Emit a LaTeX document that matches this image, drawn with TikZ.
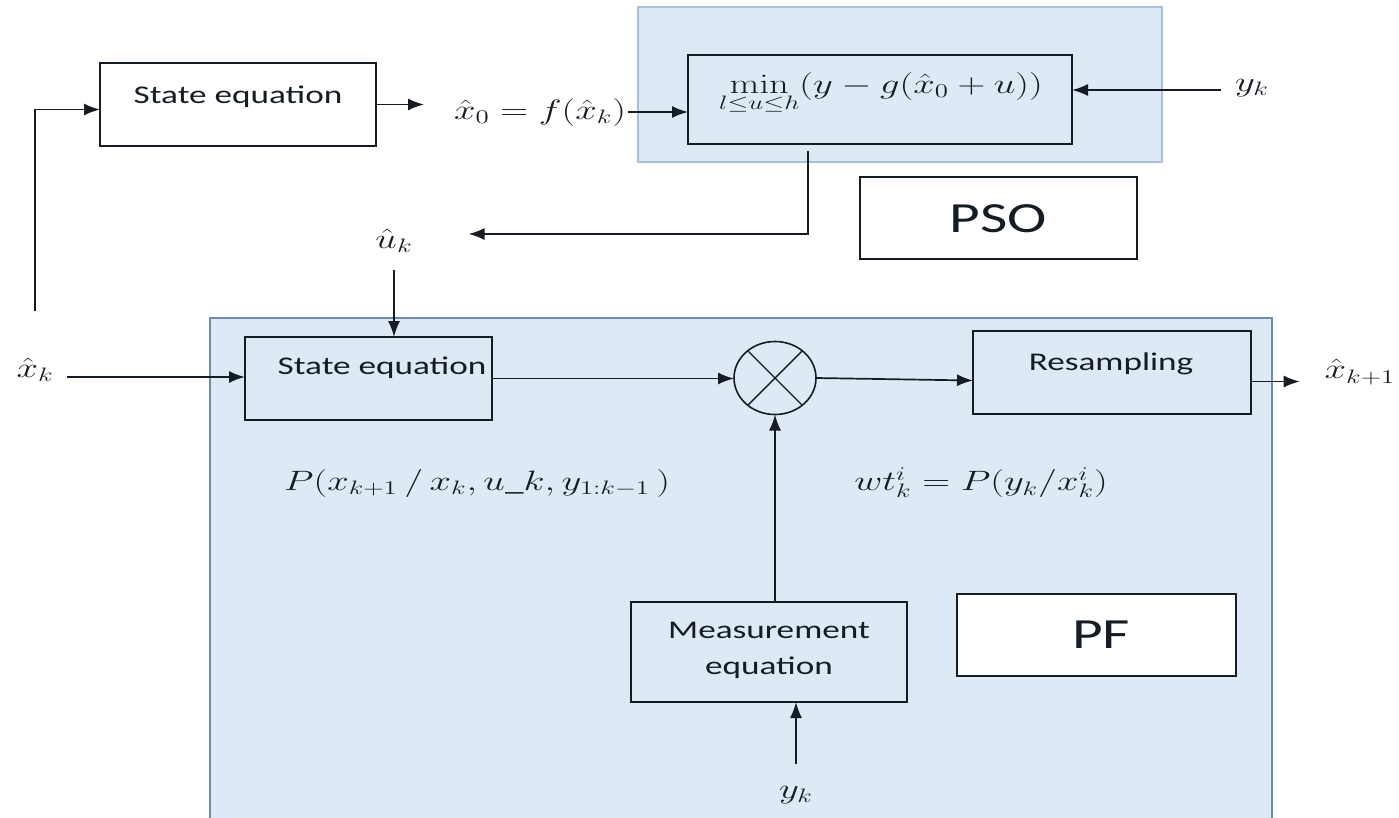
\documentclass[tikz,border=0pt]{standalone}
\usepackage[no-math]{fontspec}
\setmainfont{Carlito}
\usepackage{graphicx}
\usetikzlibrary{arrows.meta,shapes.geometric}
\definecolor{shade}{RGB}{221,233,245}
\definecolor{psoline}{RGB}{170,192,216}
\definecolor{pfline}{RGB}{110,140,172}
\definecolor{ink}{RGB}{22,28,36}
\newcommand{\hs}[1]{\scalebox{1.38}[1]{#1}}
\newcommand{\mhs}[1]{\scalebox{1.863}[1.35]{#1}}
\begin{document}
\begin{tikzpicture}[x=1pt,y=-1pt,
  every node/.style={inner sep=0pt,outer sep=0pt},
  blk/.style={draw=ink,line width=1.7pt,rectangle,anchor=north west},
  region/.style={rectangle,anchor=north west,fill=shade,line width=1.3pt},
  arr/.style={draw=ink,line width=1.7pt,-{Latex[length=16pt,width=12pt]}},
  txt/.style={font=\fontsize{25.5}{36}\selectfont,text=ink},
  mth/.style={font=\fontsize{20}{24}\selectfont,text=ink},
  big/.style={font=\fontsize{43}{50}\selectfont,text=ink}]
\useasboundingbox (0,0) rectangle (1399,817);
\fill[white] (0,0) rectangle (1399,817);

% shaded regions
\node[region,draw=psoline,minimum width=524pt,minimum height=155pt] (psoreg) at (638,7) {};
\node[region,draw=pfline,minimum width=1062pt,minimum height=520pt] (pfreg) at (210,318) {};

% boxes
\node[blk,fill=white,minimum width=276pt,minimum height=83pt] (se1) at (100,63) {};
\node[blk,minimum width=384pt,minimum height=89pt] (minb) at (688,55) {};
\node[blk,fill=white,minimum width=277pt,minimum height=82pt] (psob) at (860,177) {};
\node[blk,minimum width=247pt,minimum height=83pt] (se2) at (245,337) {};
\node[blk,minimum width=278pt,minimum height=83pt] (rs) at (973,331) {};
\node[blk,minimum width=276pt,minimum height=100pt] (meas) at (631,602) {};
\node[blk,fill=white,minimum width=279pt,minimum height=82pt] (pfb) at (957,594) {};
\node[draw=ink,line width=1.6pt,ellipse,minimum width=82pt,minimum height=73pt] (mult) at (775,378) {};
\draw[ink,line width=1.4pt] (mult.45) -- (mult.225) (mult.135) -- (mult.315);

% texts
\node[txt] (t1) at (238,97) {\hs{State equation}};
\node[txt] (t2) at (382,368) {\hs{State equation}};
\node[txt] (t3) at (1111,364) {\hs{Resampling}};
\node[txt,align=center] (t4) at (769,650) {\hs{Measurement}\\\hs{equation}};
\node[big] (t5) at (998,219) {\hs{PSO}};
\node[big] (t6) at (1101,635) {\hs{PF}};

% math labels
\node[mth] (x0) at (540,112) {\mhs{$\hat{x}_0 = f(\hat{x}_k)$}};
\node[mth] (mintx) at (881,93) {\mhs{$\min\limits_{l\le u\le h}(y-g(\hat{x}_0+u))$}};
\node[mth] (yk1) at (1252,88) {\mhs{$y_k$}};
\node[mth] (uk) at (394,241) {\mhs{$\hat{u}_k$}};
\node[mth] (xk) at (35,370) {\mhs{$\hat{x}_k$}};
\node[mth] (xk1) at (1360,372) {\mhs{$\hat{x}_{k+1}$}};
\node[mth] (yk2) at (796,795) {\mhs{$y_k$}};
\node[mth] (plab) at (477,483) {\mhs{$P(x_{k+1}\,/\,x_k, u\_k, y_{1:k-1}\,)$}};
\node[mth] (wlab) at (981,483) {\mhs{$wt_k^i = P(y_k/x_k^i)$}};

% connectors
\draw[arr,shorten <=47pt] (xk.north) |- ([yshift=-5pt]se1.west);
\draw[arr,shorten >=30pt] (se1.east) -- (se1.east -| x0.west);
\draw[arr,shorten <=2pt] (x0.east) -- (x0.east -| minb.west);
\draw[arr,shorten <=14pt] ([yshift=-2pt]yk1.west) -- ([yshift=-2pt]yk1.west -| minb.east);
\draw[arr,shorten <=7pt] ([xshift=-72pt]minb.south) |- ([xshift=56pt,yshift=7pt]uk.east);
\draw[arr,shorten <=17pt] (uk.south) -- (uk.south |- se2.north);
\draw[arr,shorten <=14pt] ([yshift=-7pt]xk.east) -- ([yshift=-7pt]xk.east -| se2.west);
\draw[arr] (se2.east) -- (se2.east -| mult.west);
\draw[arr] (mult.east) -- ([yshift=-8pt]rs.west);
\draw[arr,shorten >=25pt] ([yshift=-9pt]rs.east) -- ([yshift=-9pt]rs.east -| xk1.west);
\draw[arr] (mult.south |- meas.north) -- (mult.south);
\draw[arr,shorten <=22pt] (yk2.north) -- (yk2.north |- meas.south);
\end{tikzpicture}
\end{document}
